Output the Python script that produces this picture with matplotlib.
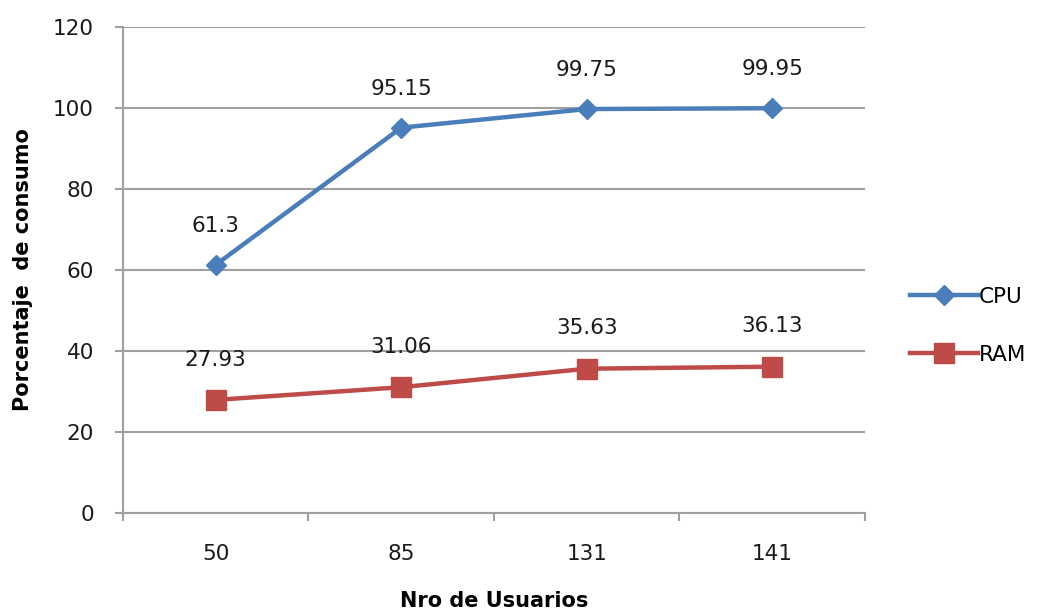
import matplotlib
matplotlib.use("Agg")
import matplotlib.pyplot as plt
from matplotlib.lines import Line2D

usuarios = ["50", "85", "131", "141"]
cpu = [61.3, 95.15, 99.75, 99.95]
ram = [27.93, 31.06, 35.63, 36.13]
cpu_labels = ["61.3", "95.15", "99.75", "99.95"]
ram_labels = ["27.93", "31.06", "35.63", "36.13"]

CPU_COLOR = "#4A7EBB"
RAM_COLOR = "#BE4B48"
GRID = "#A0A0A0"
TEXT = "#1A1A1A"
FS = 15.5

plt.rcParams["font.family"] = ["DejaVu Sans"]

fig = plt.figure(figsize=(10.38, 6.10), dpi=100)
ax = fig.add_axes([0.1185, 0.159, 0.7148, 0.7967])

x = list(range(len(usuarios)))
ax.plot(x, cpu, color=CPU_COLOR, lw=3.2, marker="D", ms=10, mfc=CPU_COLOR, mec=CPU_COLOR, zorder=3)
ax.plot(x, ram, color=RAM_COLOR, lw=3.2, marker="s", ms=14, mfc=RAM_COLOR, mec=RAM_COLOR, zorder=3)

for xi, v, t in zip(x, cpu, cpu_labels):
    ax.annotate(t, (xi, v), xytext=(0, 28), textcoords="offset points",
                ha="center", va="center", fontsize=FS, color=TEXT)
for xi, v, t in zip(x, ram, ram_labels):
    ax.annotate(t, (xi, v), xytext=(0, 29), textcoords="offset points",
                ha="center", va="center", fontsize=FS, color=TEXT)

ax.set_xlim(-0.5, len(usuarios) - 0.5)
ax.set_ylim(0, 120)
ax.set_yticks(range(0, 121, 20))
ax.yaxis.grid(True, color=GRID, lw=1.5)
ax.set_axisbelow(True)

ax.set_xticks([i - 0.5 for i in range(len(usuarios) + 1)])
ax.set_xticklabels([])
ax.set_xticks(x, minor=True)
ax.set_xticklabels(usuarios, minor=True, fontsize=FS, color=TEXT)
ax.tick_params(axis="x", which="minor", length=0, pad=22)
ax.tick_params(axis="x", which="major", length=6, width=1.5, color=GRID)
ax.tick_params(axis="y", length=6, width=1.5, color=GRID, labelsize=FS,
               labelcolor=TEXT, pad=15)

for s in ["top", "right"]:
    ax.spines[s].set_visible(False)
for s in ["left", "bottom"]:
    ax.spines[s].set_color(GRID)
    ax.spines[s].set_linewidth(1.5)

ax.set_xlabel("Nro de Usuarios", fontsize=15, fontweight="bold", labelpad=20)
ax.set_ylabel("Porcentaje  de consumo", fontsize=15, fontweight="bold", labelpad=14)

handles = [
    Line2D([], [], color=CPU_COLOR, lw=3.2, marker="D", ms=10),
    Line2D([], [], color=RAM_COLOR, lw=3.2, marker="s", ms=14),
]
fig.legend(handles, ["CPU", "RAM"], loc="center left", bbox_to_anchor=(0.877, 0.466),
           frameon=False, fontsize=FS, handlelength=3.15, handletextpad=0.05,
           labelspacing=1.75, borderaxespad=0, borderpad=0)

fig.savefig("out.png", dpi=100, facecolor="white")
